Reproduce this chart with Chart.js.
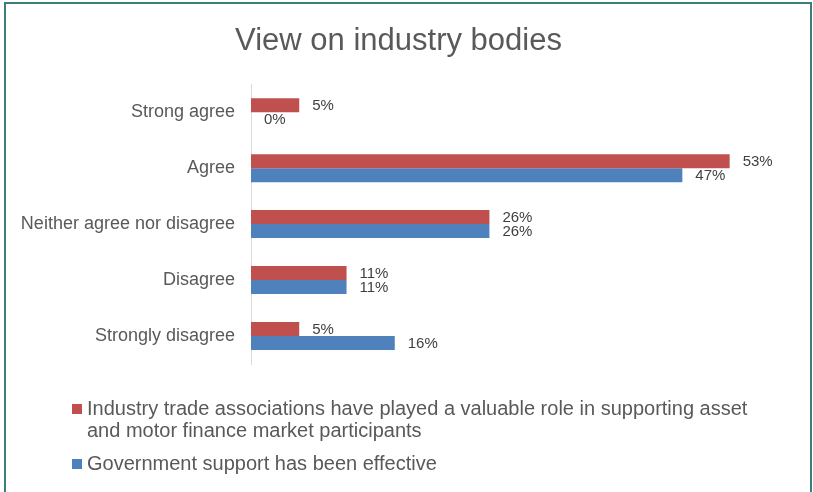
<!DOCTYPE html>
<html>
<head>
<meta charset="utf-8">
<script src="https://cdn.jsdelivr.net/npm/chart.js"></script>
<style>
  html, body { margin: 0; padding: 0; background: #fff; overflow: hidden; }
  #wrap { position: relative; width: 813px; height: 492px; }
  #frame { position: absolute; left: 4px; top: 2px; width: 808px; height: 520px; box-sizing: border-box;
           border: 2px solid #3b7f7a; pointer-events: none; }
  canvas { position: absolute; left: 0; top: 0; }
</style>
</head>
<body>
<div id="wrap">
  <canvas id="myChart" width="813" height="492"></canvas>
  <div id="frame"></div>
</div>
<script>
var categories = ["Strong agree", "Agree", "Neither agree nor disagree", "Disagree", "Strongly disagree"];
var seriesNames = [
  "Industry trade associations have played a valuable role in supporting asset and motor finance market participants",
  "Government support has been effective"
];
var tradeValues = [5.3, 52.6, 26.2, 10.5, 5.3];
var govValues = [0, 47.4, 26.2, 10.5, 15.8];
var barColors = ["#C0504D", "#4F81BD"];

var textColor = "#595959";
var fontFamily = "'Liberation Sans', Arial, sans-serif";

// value labels to the right of each bar
var valueLabels = {
  id: "valueLabels",
  afterDatasetsDraw: function(chart) {
    var ctx = chart.ctx;
    ctx.save();
    ctx.font = "15px " + fontFamily;
    ctx.fillStyle = "#404040";
    ctx.textAlign = "left";
    ctx.textBaseline = "middle";
    chart.data.datasets.forEach(function(ds, i) {
      chart.getDatasetMeta(i).data.forEach(function(bar, j) {
        ctx.fillText(Math.round(ds.data[j]) + "%", bar.x + 13, bar.y + 1);
      });
    });
    ctx.restore();
  }
};

// legend at the bottom, one item per row, wrapped text
var bottomLegend = {
  id: "bottomLegend",
  afterDraw: function(chart) {
    var ctx = chart.ctx;
    ctx.save();
    ctx.font = "20px " + fontFamily;
    ctx.textBaseline = "alphabetic";
    ctx.textAlign = "left";
    var y = 415;
    chart.data.datasets.forEach(function(ds) {
      var words = ds.label.split(" ");
      var lines = [], line = "";
      words.forEach(function(w) {
        var test = line ? line + " " + w : w;
        if (ctx.measureText(test).width > 680 && line) { lines.push(line); line = w; }
        else line = test;
      });
      lines.push(line);
      ctx.fillStyle = ds.backgroundColor;
      ctx.fillRect(72, y - 11, 10, 10);
      ctx.fillStyle = textColor;
      lines.forEach(function(l, k) {
        ctx.fillText(l, 87, y + k * 22);
      });
      y += (lines.length - 1) * 22 + 33;
    });
    ctx.restore();
  }
};

new Chart("myChart", {
  type: "bar",
  data: {
    labels: categories,
    datasets: [{
      label: seriesNames[0],
      data: tradeValues,
      backgroundColor: barColors[0],
      categoryPercentage: 0.5,
      barPercentage: 1.0
    }, {
      label: seriesNames[1],
      data: govValues,
      backgroundColor: barColors[1],
      categoryPercentage: 0.5,
      barPercentage: 1.0
    }]
  },
  options: {
    indexAxis: "y",
    responsive: false,
    animation: false,
    devicePixelRatio: 1,
    layout: { padding: { top: 0, right: 16, bottom: 128, left: 0 } },
    scales: {
      x: { display: false, min: 0, max: 60 },
      y: {
        afterFit: function(scale) { scale.width = 251; },
        grid: { display: false, drawTicks: false },
        border: { display: true, color: "#D9D9D9", width: 1 },
        ticks: { color: textColor, padding: 16, font: { size: 18, family: fontFamily } }
      }
    },
    plugins: {
      legend: { display: false },
      tooltip: { enabled: false },
      title: {
        display: true,
        text: "View on industry bodies",
        color: textColor,
        font: { size: 31, weight: "normal", family: fontFamily },
        padding: { top: 23, bottom: 24 }
      }
    }
  },
  plugins: [valueLabels, bottomLegend]
});
</script>
</body>
</html>
